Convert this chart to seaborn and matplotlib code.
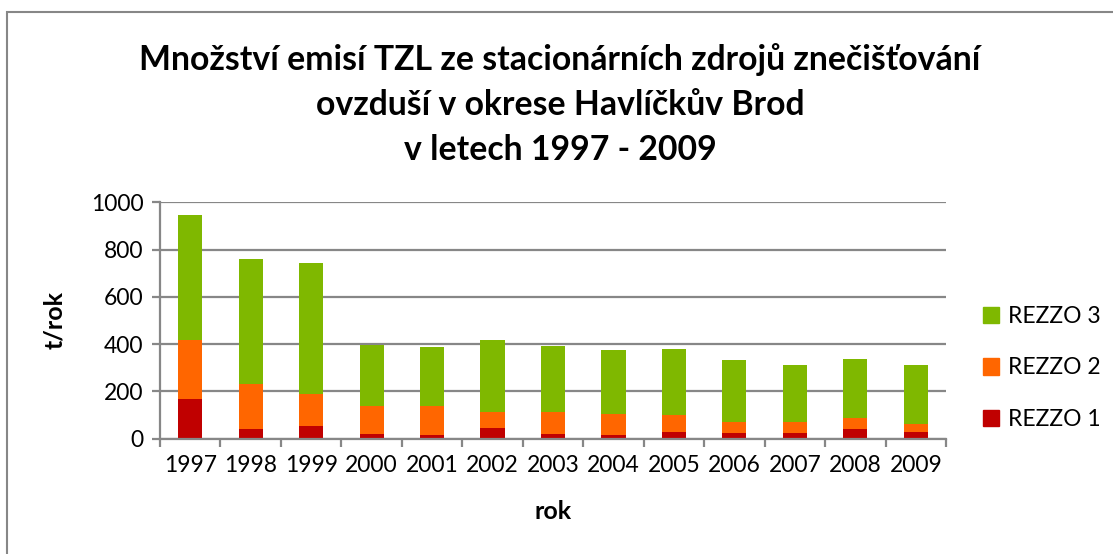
import numpy as np
import pandas as pd
import matplotlib.pyplot as plt
import seaborn as sns
from matplotlib.patches import Patch, Rectangle

# hodnoty (t/rok)
roky = ['1997', '1998', '1999', '2000', '2001', '2002', '2003',
        '2004', '2005', '2006', '2007', '2008', '2009']
rezzo1 = [169, 42, 55, 21, 17, 47, 18, 17, 30, 24, 25, 39, 30]
rezzo2 = [250, 191, 134, 119, 120, 64, 93, 87, 69, 48, 44, 47, 33]
rezzo3 = [526, 527, 556, 255, 249, 308, 281, 270, 279, 261, 241, 250, 247]

nazvy = ['REZZO 1', 'REZZO 2', 'REZZO 3']
barvy = ['#C00000', '#FF6600', '#7FB800']

df = pd.DataFrame({'rok': roky, 'REZZO 1': rezzo1, 'REZZO 2': rezzo2, 'REZZO 3': rezzo3})
# kumulativní součty pro skládané sloupce
df['c1'] = df['REZZO 1']
df['c2'] = df['c1'] + df['REZZO 2']
df['c3'] = df['c2'] + df['REZZO 3']

sns.set_theme(style='white')
plt.rcParams['font.family'] = ['Lato', 'DejaVu Sans']
plt.rcParams['text.color'] = 'black'
plt.rcParams['axes.labelcolor'] = 'black'
plt.rcParams['xtick.color'] = 'black'
plt.rcParams['ytick.color'] = 'black'

seda = '#878787'
fs = 16.5
fig = plt.figure(figsize=(11.13, 5.54), dpi=100)
ax = fig.add_axes([160 / 1113, 1 - 438.7 / 554, 786 / 1113, 236.4 / 554])

for sl, barva in zip(['c3', 'c2', 'c1'], barvy[::-1]):
    sns.barplot(data=df, x='rok', y=sl, color=barva, saturation=1, width=0.4,
                linewidth=0, ax=ax)

ax.set_ylim(0, 1000)
ax.set_xlim(-0.5, len(roky) - 0.5)
ax.set_yticks(range(0, 1001, 200))
ax.yaxis.grid(True, color=seda, lw=1.6)
ax.set_axisbelow(True)
for s in ['top', 'right']:
    ax.spines[s].set_visible(False)
for s in ['left', 'bottom']:
    ax.spines[s].set_color(seda)
    ax.spines[s].set_linewidth(1.6)

ax.tick_params(axis='y', length=6, width=1.6, color=seda, labelsize=fs, pad=6,
               left=True, labelcolor='black')
ax.tick_params(axis='x', which='major', length=0, labelsize=fs, pad=12, labelcolor='black')
ax.set_xticks(np.arange(-0.5, len(roky)), minor=True)
ax.tick_params(axis='x', which='minor', length=6, width=1.6, color=seda, bottom=True)

ax.set_xlabel('rok', fontsize=18, fontweight='bold', labelpad=17)
ax.set_ylabel('t/rok', fontsize=18, fontweight='bold', labelpad=18)

# titulek
radky = ['Množství emisí TZL ze stacionárních zdrojů znečišťování',
         'ovzduší v okrese Havlíčkův Brod',
         'v letech 1997 - 2009']
for i, r in enumerate(radky):
    fig.text(560 / 1113, 1 - (60 + i * 45) / 554, r, ha='center', va='center',
             fontsize=24.3, fontweight='bold')

# legenda
handles = [Patch(color=barvy[i], label=nazvy[i]) for i in [2, 1, 0]]
fig.legend(handles=handles, loc='center left', bbox_to_anchor=(962 / 1113, 1 - 368 / 554),
           frameon=False, fontsize=fs, handlelength=0.7, handleheight=0.7,
           handletextpad=0.4, labelspacing=1.35)

# rámeček grafu
fig.patches.append(Rectangle((7 / 1113, -0.1), 1.2, 1 - 12 / 554 + 0.1,
                             transform=fig.transFigure, fill=False,
                             edgecolor=seda, lw=1.5))

fig.savefig('out.png', dpi=100)
